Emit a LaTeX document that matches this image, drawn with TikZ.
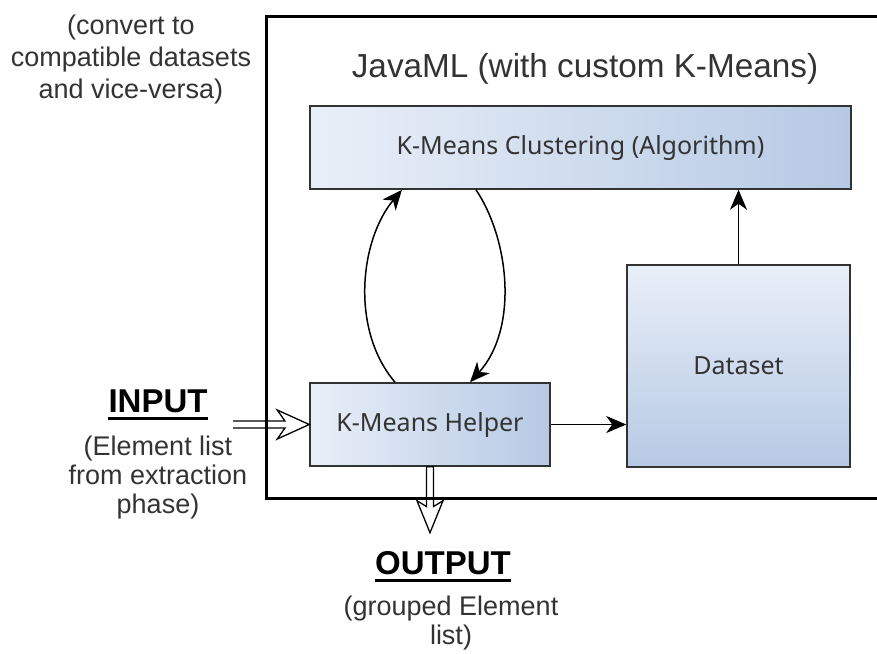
\documentclass[tikz,border=0pt]{standalone}
\usepackage{fontspec}
\setmainfont{Liberation Sans}
\newfontfamily\boxfont{Noto Sans}
\usetikzlibrary{arrows.meta,calc}

\definecolor{boxlight}{RGB}{233,239,248}
\definecolor{boxdark}{RGB}{182,201,228}
\definecolor{inkgray}{RGB}{51,51,51}

\begin{document}
\begin{tikzpicture}[x=1pt,y=-1pt,
  block/.style={draw=inkgray, line width=1.5pt, left color=boxlight, right color=boxdark,
    text=inkgray, font=\boxfont\fontsize{25}{29}\selectfont, inner sep=0pt},
  note/.style={text=inkgray, font=\fontsize{27}{29}\selectfont, align=center, inner sep=0pt},
  heading/.style={font=\bfseries\fontsize{33}{38}\selectfont, text=black, inner sep=0pt},
  flow/.style={line width=1.5pt, draw=black, -{Stealth[length=20pt,width=17pt,inset=6pt]}},
  pipe/.style={line width=1.3pt, draw=black, line join=miter},
]
\path[use as bounding box] (0,0) rectangle (877,653);
\clip (0,0) rectangle (877,653);

% JavaML container (its right side runs past the page edge)
\node[draw=black, line width=3pt, minimum width=640pt, minimum height=482pt,
      anchor=north west, inner sep=0pt] (javaml) at (265,15) {};
\node[text=inkgray, font=\fontsize{33.3}{38}\selectfont, anchor=base, inner sep=0pt]
      (title) at (585,77) {JavaML (with custom K-Means)};

% components
\node[block, minimum width=541pt, minimum height=83pt] (cluster) at (580.5,147.5)
      {K-Means Clustering (Algorithm)};
\node[block, minimum width=223pt, minimum height=202pt, shading angle=45,
      top color=boxlight, bottom color=boxdark] (dataset) at (738.5,366) {Dataset};
\node[block, minimum width=240pt, minimum height=83pt] (helper) at (430,424.5)
      {K-Means Helper};

% data flow
\draw[flow] (dataset.north) -- (dataset.north |- cluster.south);
\draw[flow] (helper.east) -- (dataset.west |- helper.east);
\draw[flow] ($(helper.north)+(-35,0)$) .. controls +(-45,-53) and +(-42,50)
      .. ($(cluster.south)+(-178.5,0)$);
\draw[flow] ($(cluster.south)+(-104.5,0)$) .. controls +(34,51) and +(48,-53)
      .. ($(helper.north)+(40,0)$);

% hollow input / output arrows
\coordinate (intail) at (233,424.5);
\draw[pipe] (intail |- {$(helper.west)+(0,-3.5)$}) -- ($(helper.west)+(-24.3,-3.5)$)
      -- ($(helper.west)+(-32,-14.5)$) -- (helper.west) -- ($(helper.west)+(-32,14.5)$)
      -- ($(helper.west)+(-24.3,3.5)$) -- (intail |- {$(helper.west)+(0,3.5)$});
\draw[pipe] ($(helper.south)+(-3.5,39.8)$) -- ($(helper.south)+(-3.5,0)$)
      -- ($(helper.south)+(3.5,0)$) -- ($(helper.south)+(3.5,39.8)$)
      -- ($(helper.south)+(13,34)$) -- ($(helper.south)+(0,66)$)
      -- ($(helper.south)+(-13,34)$) -- cycle;

% annotations (a multi-line node's base is its last line)
\node[note, anchor=base, font=\fontsize{27}{32}\selectfont] (convnote) at (131,98)
      {(convert to\\compatible datasets\\and vice-versa)};
\node[heading, anchor=base] (inhead) at (158,412) {INPUT};
\draw[line width=2.8pt] ([yshift=-6pt]inhead.south west) -- ([yshift=-6pt]inhead.south east);
\node[note, anchor=base] (innote) at (158,513)
      {(Element list\\from extraction\\phase)};
\node[heading, anchor=base] (outhead) at (443,574) {OUTPUT};
\draw[line width=2.8pt] ([yshift=-6pt]outhead.south west) -- ([yshift=-6pt]outhead.south east);
\node[note, anchor=base] (outnote) at (451,644)
      {(grouped Element\\list)};
\end{tikzpicture}
\end{document}
